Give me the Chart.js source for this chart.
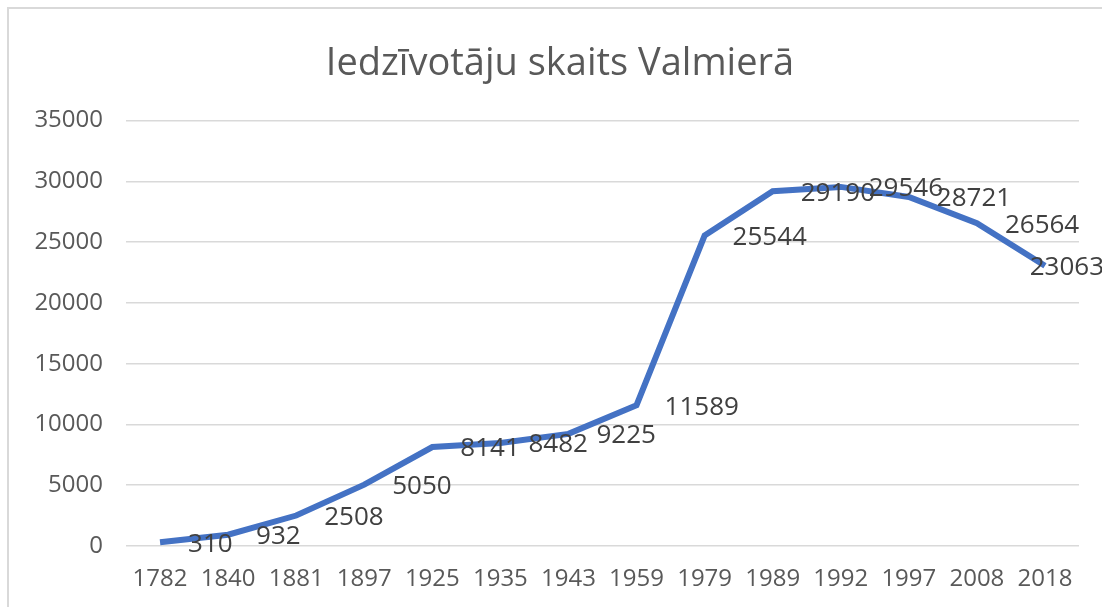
<!DOCTYPE html>
<html>
<head>
<meta charset="utf-8">
<script src="https://cdn.jsdelivr.net/npm/chart.js@4/dist/chart.umd.min.js"></script>
<style>
  html, body { margin: 0; padding: 0; background: #fff; overflow: hidden; }
  #wrap { position: relative; width: 1102px; height: 607px; }
  #frame { position: absolute; left: 7px; top: 7px; width: 1200px; height: 700px; border: 2px solid #d9d9d9; }
  canvas { position: absolute; left: 0; top: 0; }
</style>
</head>
<body>
<div id="wrap">
  <div id="frame"></div>
  <canvas id="valmiera" width="1102" height="607"></canvas>
</div>
<script>
const years = ["1782", "1840", "1881", "1897", "1925", "1935", "1943", "1959", "1979", "1989", "1992", "1997", "2008", "2018"];
const population = [310, 932, 2508, 5050, 8141, 8482, 9225, 11589, 25544, 29190, 29546, 28721, 26564, 23063];
const titleText = "Iedzīvotāju skaits Valmierā";

const fontFamily = "'Open Sans', 'Noto Sans', sans-serif";

// Excel style labels, right of each point (pushed back inside at the right edge)
const pointLabels = {
    id: 'pointLabels',
    afterDatasetsDraw(chart) {
        const ctx = chart.ctx;
        const meta = chart.getDatasetMeta(0);
        ctx.save();
        ctx.font = "26px " + fontFamily;
        ctx.fillStyle = "#404040";
        ctx.textAlign = "left";
        ctx.textBaseline = "middle";
        meta.data.forEach((pt, i) => {
            const txt = String(population[i]);
            const w = ctx.measureText(txt).width;
            const x = Math.min(pt.x + 28, chart.width + 2 - w);
            ctx.fillText(txt, x, pt.y + 2);
        });
        ctx.restore();
    }
};

const ctx = document.getElementById('valmiera').getContext('2d');
new Chart(ctx, {
    type: 'line',
    data: {
        labels: years,
        datasets: [{
            data: population,
            borderColor: "#4472C4",
            borderWidth: 6,
            pointRadius: 0,
            tension: 0,
            fill: false
        }]
    },
    options: {
        responsive: false,
        animation: false,
        layout: { padding: { left: 18, right: 0, top: 0, bottom: 0 } },
        plugins: {
            legend: { display: false },
            tooltip: { enabled: false },
            title: {
                display: true,
                text: titleText,
                color: "#595959",
                font: { family: fontFamily, size: 38, weight: 'normal' },
                padding: { top: 41, bottom: 34 }
            }
        },
        scales: {
            x: {
                offset: true,
                grid: { display: false, drawTicks: false },
                border: { display: false },
                ticks: {
                    color: "#595959",
                    font: { family: fontFamily, size: 24 },
                    padding: 19,
                    maxRotation: 0,
                    autoSkip: false
                },
                afterFit(scale) { scale.height = 61; }
            },
            y: {
                min: 0,
                max: 35000,
                grid: { color: "#d9d9d9", lineWidth: 1.5, drawTicks: false },
                border: { display: false },
                ticks: {
                    stepSize: 5000,
                    color: "#595959",
                    font: { family: fontFamily, size: 24 },
                    padding: 23,
                    callback: v => String(v)
                },
                afterFit(scale) { scale.width = 108; }
            },
            // empty right margin so the title stays centred like the original
            yRight: {
                position: 'right',
                min: 0,
                max: 35000,
                grid: { display: false, drawTicks: false },
                border: { display: false },
                ticks: { display: false },
                afterFit(scale) { scale.width = 23; }
            }
        }
    },
    plugins: [pointLabels]
});
</script>
</body>
</html>
